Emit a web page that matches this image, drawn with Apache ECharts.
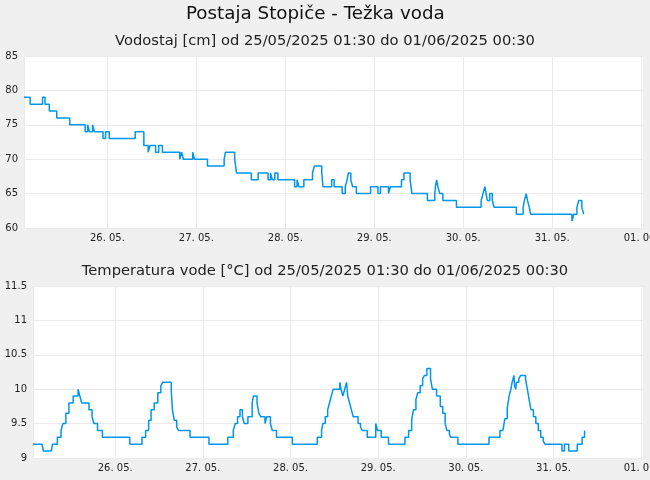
<!DOCTYPE html>
<html>
<head>
<meta charset="utf-8">
<script src="https://cdn.jsdelivr.net/npm/echarts@6/dist/echarts.min.js"></script>
<style>
  html, body { margin: 0; padding: 0; background: #f0f0f0; }
  #chart { width: 650px; height: 480px; }
</style>
</head>
<body>
<div id="chart"></div>
<script>
// podatki: leto + "MM-DD HH:mm", vrednost velja do naslednje točke
var YEAR = '2025';
var xMin = '05-25 01:30';
var xMax = '06-01 00:30';

var levelTimes = [
  '05-25 01:30', '05-25 03:10', '05-25 06:30', '05-25 07:10', '05-25 08:20', '05-25 10:20',
  '05-25 13:50', '05-25 18:00', '05-25 18:40', '05-25 19:10', '05-25 20:00', '05-25 20:30',
  '05-25 22:50', '05-25 23:30', '05-26 00:30', '05-26 07:30', '05-26 09:50', '05-26 11:00',
  '05-26 11:30', '05-26 13:00', '05-26 13:50', '05-26 14:50', '05-26 19:30', '05-26 20:00',
  '05-26 20:30', '05-26 23:00', '05-26 23:30', '05-27 03:00', '05-27 07:30', '05-27 07:50',
  '05-27 10:20', '05-27 10:50', '05-27 14:50', '05-27 16:40', '05-27 19:20', '05-27 20:00',
  '05-27 20:30', '05-27 21:10', '05-27 22:00', '05-28 02:30', '05-28 03:10', '05-28 03:40',
  '05-28 05:00', '05-28 07:20', '05-28 07:50', '05-28 09:50', '05-28 10:10', '05-28 12:30',
  '05-28 13:10', '05-28 15:20', '05-28 16:10', '05-28 16:40', '05-28 17:00', '05-28 17:40',
  '05-28 18:10', '05-28 19:10', '05-28 23:00', '05-29 01:00', '05-29 01:40', '05-29 03:50',
  '05-29 04:20', '05-29 07:20', '05-29 08:00', '05-29 09:40', '05-29 10:10', '05-29 14:20',
  '05-29 16:20', '05-29 16:30', '05-29 16:50', '05-29 17:10', '05-29 17:40', '05-29 18:30',
  '05-29 22:10', '05-30 04:50', '05-30 05:20', '05-30 05:50', '05-30 06:10', '05-30 06:30',
  '05-30 07:10', '05-30 07:50', '05-30 08:20', '05-30 14:20', '05-30 16:10', '05-30 16:30',
  '05-30 17:00', '05-30 17:20', '05-30 17:50', '05-30 18:10', '05-31 05:20', '05-31 05:50',
  '05-31 06:40', '05-31 07:10', '05-31 08:00', '05-31 08:30'
];
var levelValues = [
  79, 78, 79, 78, 77, 76,
  75, 74, 75, 74, 75, 74,
  73, 74, 73, 74, 72, 71,
  72, 71, 72, 71, 70, 71,
  70, 71, 70, 69, 70, 71,
  70, 68, 67, 68, 67, 68,
  67, 68, 67, 66, 67, 66,
  67, 68, 69, 68, 66, 67,
  66, 65, 66, 67, 68, 67,
  66, 65, 66, 65, 66, 65,
  66, 67, 68, 67, 65, 64,
  65, 66, 67, 66, 65, 64,
  63, 64, 65, 66, 65, 64,
  65, 64, 63, 62, 63, 64,
  65, 64, 63, 62, 61, 62,
  63, 64, 63, 62
];

var tempTimes = [
  '05-25 01:30', '05-25 04:00', '05-25 04:20', '05-25 06:30', '05-25 06:50', '05-25 08:10',
  '05-25 09:10', '05-25 09:40', '05-25 10:30', '05-25 11:20', '05-25 12:30', '05-25 13:50',
  '05-25 14:20', '05-25 14:50', '05-25 16:50', '05-25 17:40', '05-25 18:10', '05-25 19:10',
  '05-25 20:30', '05-26 04:00', '05-26 07:20', '05-26 08:20', '05-26 09:10', '05-26 09:50',
  '05-26 10:40', '05-26 11:40', '05-26 12:30', '05-26 13:00', '05-26 15:20', '05-26 15:40',
  '05-26 16:10', '05-26 16:50', '05-26 17:20', '05-26 20:30', '05-27 01:40', '05-27 06:50',
  '05-27 08:20', '05-27 08:50', '05-27 09:30', '05-27 10:10', '05-27 10:50', '05-27 11:20',
  '05-27 12:20', '05-27 13:30', '05-27 13:50', '05-27 14:50', '05-27 15:20', '05-27 15:50',
  '05-27 17:00', '05-27 17:30', '05-27 18:30', '05-27 19:00', '05-27 20:10', '05-28 00:30',
  '05-28 07:20', '05-28 08:30', '05-28 08:50', '05-28 09:30', '05-28 10:10', '05-28 10:40',
  '05-28 11:10', '05-28 11:40', '05-28 13:30', '05-28 13:50', '05-28 14:20', '05-28 14:50',
  '05-28 15:20', '05-28 15:40', '05-28 16:10', '05-28 16:40', '05-28 17:10', '05-28 18:30',
  '05-28 19:10', '05-28 19:40', '05-28 21:00', '05-28 23:20', '05-28 23:50', '05-29 00:50',
  '05-29 02:50', '05-29 07:20', '05-29 08:20', '05-29 09:10', '05-29 09:40', '05-29 10:20',
  '05-29 10:50', '05-29 11:30', '05-29 12:10', '05-29 12:40', '05-29 13:20', '05-29 14:20',
  '05-29 14:50', '05-29 16:00', '05-29 17:00', '05-29 17:40', '05-29 18:20', '05-29 18:50',
  '05-29 19:30', '05-29 19:50', '05-29 21:50', '05-30 06:20', '05-30 09:20', '05-30 10:10',
  '05-30 10:40', '05-30 11:20', '05-30 11:50', '05-30 12:20', '05-30 12:40', '05-30 13:10',
  '05-30 13:20', '05-30 13:40', '05-30 13:50', '05-30 14:30', '05-30 15:00', '05-30 16:20',
  '05-30 16:50', '05-30 17:20', '05-30 17:50', '05-30 18:30', '05-30 19:10', '05-30 19:50',
  '05-30 20:30', '05-30 21:10', '05-30 21:40', '05-31 02:20', '05-31 03:00', '05-31 04:10',
  '05-31 06:30', '05-31 07:50', '05-31 08:30'
];
var tempValues = [
  9.2, 9.2, 9.1, 9.1, 9.2, 9.3,
  9.4, 9.5, 9.65, 9.8, 9.9, 10.0,
  9.9, 9.8, 9.7, 9.6, 9.5, 9.4,
  9.3, 9.2, 9.3, 9.4, 9.55, 9.7,
  9.8, 9.95, 10.05, 10.1, 10.0, 9.7,
  9.55, 9.45, 9.4, 9.3, 9.2, 9.3,
  9.4, 9.5, 9.6, 9.7, 9.6, 9.5,
  9.6, 9.8, 9.9, 9.8, 9.65, 9.6,
  9.5, 9.6, 9.5, 9.4, 9.3, 9.2,
  9.3, 9.4, 9.5, 9.6, 9.7, 9.8,
  9.9, 10.0, 10.1, 10.0, 9.9, 10.0,
  10.1, 9.9, 9.8, 9.7, 9.6, 9.5,
  9.45, 9.4, 9.3, 9.5, 9.4, 9.3,
  9.2, 9.3, 9.4, 9.55, 9.7, 9.85,
  9.95, 10.05, 10.15, 10.2, 10.3, 10.15,
  10.0, 9.9, 9.75, 9.65, 9.5, 9.4,
  9.35, 9.3, 9.2, 9.3, 9.4, 9.42,
  9.57, 9.72, 9.9, 10.0, 10.1, 10.2,
  10.05, 10.0, 10.1, 10.15, 10.2, 10.15,
  10.0, 9.85, 9.7, 9.6, 9.5, 9.4,
  9.3, 9.25, 9.2, 9.1, 9.2, 9.1,
  9.2, 9.3, 9.4
];

function toTime(s) {
  return new Date(YEAR + '-' + s.replace(' ', 'T')).getTime();
}
function pairs(times, values) {
  return times.map(function (t, i) { return [toTime(t), values[i]]; });
}
function pad(n) { return (n < 10 ? '0' : '') + n; }

var chart = echarts.init(document.getElementById('chart'));
var fontFamily = 'DejaVu Sans';
var gridColor = '#ebebeb';
var lineColor = '#0096ee';

function xAxis(gridIndex) {
  return {
    type: 'time',
    gridIndex: gridIndex,
    min: toTime(xMin),
    max: toTime(xMax),
    minInterval: 24 * 3600 * 1000,
    maxInterval: 24 * 3600 * 1000,
    axisLine: { show: false },
    axisTick: { show: false },
    splitLine: { show: true, lineStyle: { color: gridColor, width: 1 } },
    axisLabel: {
      fontFamily: fontFamily, fontSize: 10, color: '#222', margin: 5,
      hideOverlap: false,
      formatter: function (v) {
        var d = new Date(v);
        return pad(d.getDate()) + '. ' + pad(d.getMonth() + 1) + '.';
      }
    }
  };
}
function yAxis(gridIndex, min, max, step) {
  return {
    type: 'value',
    gridIndex: gridIndex,
    min: min, max: max, interval: step,
    axisLine: { show: false },
    axisTick: { show: false },
    splitLine: { show: true, lineStyle: { color: gridColor, width: 1 } },
    axisLabel: { fontFamily: fontFamily, fontSize: 10, color: '#222', margin: 6 }
  };
}

var option = {
  backgroundColor: '#f0f0f0',
  animation: false,
  title: [
    {
      text: 'Postaja Stopiče - Težka voda',
      left: 186, top: 5, padding: 0,
      textStyle: { fontFamily: fontFamily, fontSize: 18.3, fontWeight: 'normal', color: '#111', lineHeight: 18 }
    },
    {
      text: 'Vodostaj [cm] od 25/05/2025 01:30 do 01/06/2025 00:30',
      left: 'center', top: 34, padding: 0,
      textStyle: { fontFamily: fontFamily, fontSize: 14.7, fontWeight: 'normal', color: '#222', lineHeight: 15 }
    },
    {
      text: 'Temperatura vode [°C] od 25/05/2025 01:30 do 01/06/2025 00:30',
      left: 'center', top: 264, padding: 0,
      textStyle: { fontFamily: fontFamily, fontSize: 14.7, fontWeight: 'normal', color: '#222', lineHeight: 15 }
    }
  ],
  grid: [
    { left: 24, right: 7, top: 56, height: 172, show: true, backgroundColor: '#fff', borderWidth: 0, outerBoundsMode: 'none' },
    { left: 33, right: 7, top: 286, height: 172, show: true, backgroundColor: '#fff', borderWidth: 0, outerBoundsMode: 'none' }
  ],
  xAxis: [xAxis(0), xAxis(1)],
  yAxis: [yAxis(0, 60, 85, 5), yAxis(1, 9, 11.5, 0.5)],
  series: [
    {
      name: 'Vodostaj', type: 'line', xAxisIndex: 0, yAxisIndex: 0,
      step: 'end', showSymbol: false,
      lineStyle: { color: lineColor, width: 1.5 },
      data: pairs(levelTimes, levelValues)
    },
    {
      name: 'Temperatura', type: 'line', xAxisIndex: 1, yAxisIndex: 1,
      step: 'end', showSymbol: false,
      lineStyle: { color: lineColor, width: 1.5 },
      data: pairs(tempTimes, tempValues)
    }
  ]
};

chart.setOption(option);
</script>
</body>
</html>
